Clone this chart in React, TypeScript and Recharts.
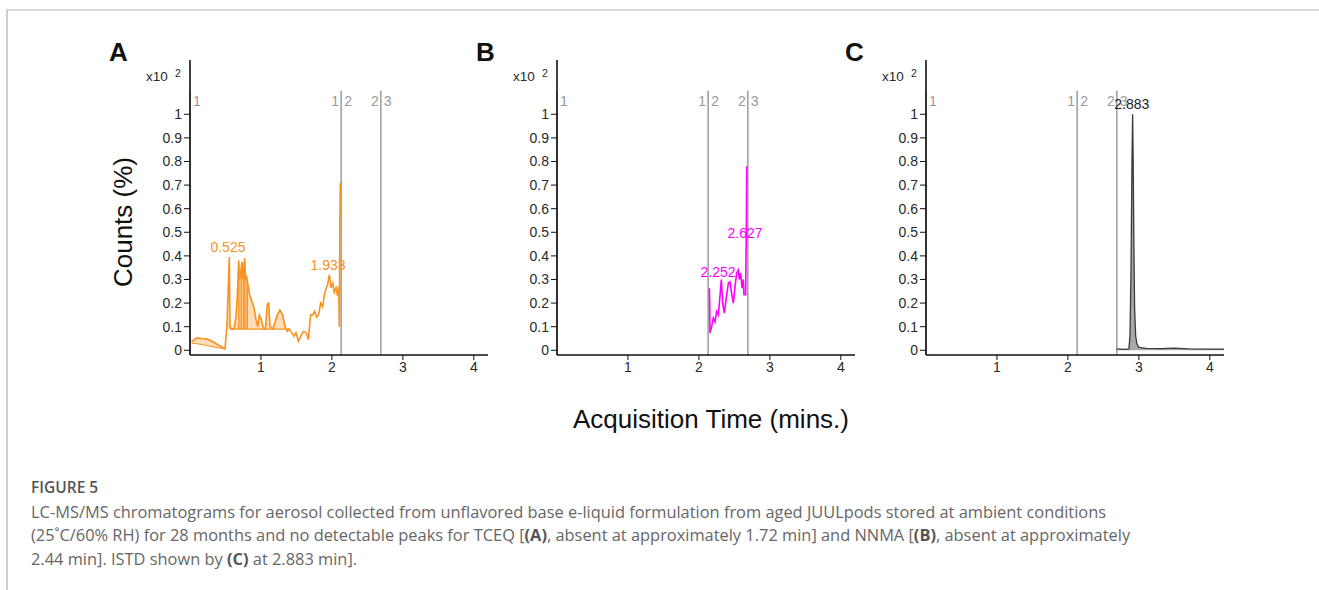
import React from 'react';
import { ComposedChart, Line, Area, XAxis, YAxis, ReferenceLine, ReferenceDot } from 'recharts';

// ---------- shared axes ----------
const xTicks = [1, 2, 3, 4];
const yTicks = [0, 0.1, 0.2, 0.3, 0.4, 0.5, 0.6, 0.7, 0.8, 0.9, 1];
const yTickLabels = ['0', '0.1', '0.2', '0.3', '0.4', '0.5', '0.6', '0.7', '0.8', '0.9', '1'];
const xDomain: [number, number] = [0, 4.2];
const yDomain: [number, number] = [-0.02, 1.23];

// segment markers (time, left label, right label)
const markerTimes = [0, 2.13, 2.69];
const markerLeft = ['', '1', '2'];
const markerRight = ['1', '2', '3'];
const markerTop = 1.1;

// ---------- panel A (TCEQ, orange) ----------
const traceA: [number, number][] = [
  [0.024, 0.038], [0.094, 0.052], [0.16, 0.05], [0.235, 0.048], [0.3, 0.04], [0.352, 0.031],
  [0.4, 0.022], [0.446, 0.014], [0.493, 0.006], [0.52, 0.1], [0.554, 0.395], [0.564, 0.1],
  [0.587, 0.09], [0.625, 0.095], [0.65, 0.15], [0.667, 0.23], [0.686, 0.38], [0.7, 0.3],
  [0.714, 0.33], [0.733, 0.375], [0.745, 0.3], [0.752, 0.33], [0.77, 0.39], [0.785, 0.3],
  [0.8, 0.31], [0.836, 0.24], [0.869, 0.21], [0.902, 0.18], [0.93, 0.13], [0.954, 0.1],
  [0.977, 0.15], [1.005, 0.13], [1.034, 0.095], [1.062, 0.09], [1.09, 0.195], [1.109, 0.2],
  [1.128, 0.1], [1.165, 0.09], [1.198, 0.12], [1.231, 0.15], [1.268, 0.17], [1.306, 0.15],
  [1.339, 0.1], [1.372, 0.08], [1.4, 0.09], [1.433, 0.075], [1.466, 0.06], [1.494, 0.075],
  [1.527, 0.038], [1.56, 0.06], [1.597, 0.08], [1.635, 0.075], [1.668, 0.046], [1.7, 0.15],
  [1.729, 0.15], [1.757, 0.165], [1.785, 0.14], [1.813, 0.15], [1.842, 0.2], [1.87, 0.185],
  [1.893, 0.235], [1.917, 0.26], [1.94, 0.28], [1.964, 0.32], [1.987, 0.265], [2.011, 0.285],
  [2.034, 0.245], [2.058, 0.265], [2.081, 0.23], [2.095, 0.27], [2.105, 0.1], [2.112, 0.54],
  [2.119, 0.71],
];
// small integrated region at start: [t, low, high]
const lowFillA: [number, number, number][] = [
  [0.024, 0.03, 0.038], [0.094, 0.028, 0.052], [0.235, 0.02, 0.048], [0.352, 0.013, 0.031],
  [0.446, 0.008, 0.014], [0.493, 0.006, 0.006],
];
const integrationBaseA = 0.09;
const integrationStartA = 0.52;
const integrationEndA = 1.4;
const dropLinesA: [number, number][] = [
  [0.686, 0.38], [0.705, 0.31], [0.728, 0.36], [0.752, 0.33], [0.77, 0.39], [0.79, 0.3], [0.81, 0.28],
];
const peaksA = [
  { t: 0.535, v: 0.395, text: '0.525' },
  { t: 1.945, v: 0.32, text: '1.933' },
];

// ---------- panel B (NNMA, magenta) ----------
const traceB: [number, number][] = [
  [2.147, 0.263], [2.152, 0.2], [2.156, 0.073], [2.18, 0.1], [2.203, 0.137], [2.227, 0.12],
  [2.25, 0.165], [2.274, 0.15], [2.297, 0.23], [2.316, 0.3], [2.335, 0.2], [2.358, 0.157],
  [2.382, 0.214], [2.415, 0.285], [2.438, 0.29], [2.462, 0.24], [2.485, 0.2], [2.509, 0.27],
  [2.532, 0.327], [2.556, 0.34], [2.57, 0.3], [2.589, 0.327], [2.607, 0.263], [2.626, 0.3],
  [2.635, 0.235], [2.659, 0.235], [2.664, 0.41], [2.668, 0.47], [2.674, 0.78],
];
const peaksB = [
  { t: 2.27, v: 0.29, text: '2.252' },
  { t: 2.65, v: 0.455, text: '2.627' },
];

// ---------- panel C (ISTD, grey) ----------
const traceC: [number, number][] = [
  [2.68, 0.006], [2.75, 0.005], [2.82, 0.004], [2.86, 0.006], [2.875, 0.06], [2.89, 0.35],
  [2.903, 0.8], [2.912, 1.0], [2.92, 0.8], [2.93, 0.45], [2.94, 0.18], [2.955, 0.06],
  [2.975, 0.025], [3.0, 0.012], [3.1, 0.008], [3.3, 0.007], [3.5, 0.009], [3.7, 0.006],
  [4.0, 0.005], [4.2, 0.005],
];
const peaksC = [{ t: 2.9, v: 1.0, text: '2.883' }];

// ---------- layout ----------
const PLOT_W = 298;
const PLOT_H = 295;
const Y_AXIS_W = 90;
const CHART_TOP = 50;
const panelLefts = [100, 467, 836];
const panelLetters = ['A', 'B', 'C'];

const chartFont = '"Liberation Sans", Arial, sans-serif';

const markerLabel = (left: string, right: string) => (props: any) => {
  const vb = props.viewBox || {};
  const x = vb.x ?? 0;
  const y = vb.y ?? 0;
  return (
    <g>
      {left ? (
        <text x={x - 2} y={y + 15} textAnchor="end" fill="#9a9a9a" fontSize={14} fontFamily={chartFont}>
          {left}
        </text>
      ) : null}
      {right ? (
        <text x={x + 3} y={y + 15} textAnchor="start" fill="#9a9a9a" fontSize={14} fontFamily={chartFont}>
          {right}
        </text>
      ) : null}
    </g>
  );
};

type Peak = { t: number; v: number; text: string };

function Panel(props: { left: number; children?: React.ReactNode; peaks: Peak[]; peakColor: string }) {
  const { left, children, peaks, peakColor } = props;
  return (
    <div style={{ position: 'absolute', left, top: CHART_TOP, fontFamily: chartFont }}>
      <ComposedChart
        width={Y_AXIS_W + PLOT_W + 10}
        height={10 + PLOT_H + 30}
        margin={{ top: 10, right: 10, left: 0, bottom: 0 }}
      >
        <XAxis
          type="number"
          dataKey="t"
          domain={xDomain}
          ticks={xTicks}
          allowDataOverflow
          height={30}
          tickSize={5}
          axisLine={{ stroke: '#111', strokeWidth: 1.6 }}
          tickLine={{ stroke: '#111' }}
          tick={{ fill: '#2a2a2a', fontSize: 14 }}
        />
        <YAxis
          type="number"
          domain={yDomain}
          ticks={yTicks}
          allowDataOverflow
          width={Y_AXIS_W}
          tickSize={6}
          axisLine={{ stroke: '#111', strokeWidth: 1.6 }}
          tickLine={{ stroke: '#111' }}
          tick={{ fill: '#2a2a2a', fontSize: 14 }}
          tickFormatter={(v: number) => yTickLabels[yTicks.indexOf(v)] ?? String(v)}
        />
        {markerTimes.map((m, i) => (
          <ReferenceLine
            key={'m' + i}
            segment={[{ x: m, y: markerTop }, { x: m, y: yDomain[0] }]}
            stroke="#8c8c8c"
            strokeWidth={1.3}
            label={markerLabel(markerLeft[i], markerRight[i])}
          />
        ))}
        {children}
        {peaks.map((p, i) => (
          <ReferenceDot
            key={'p' + i}
            x={p.t}
            y={p.v}
            r={0}
            fill="none"
            stroke="none"
            label={{ value: p.text, position: 'top', fill: peakColor, fontSize: 14, offset: 5 }}
          />
        ))}
      </ComposedChart>
    </div>
  );
}

const orange = '#F7931E';
const orangeFill = '#FCDDB8';
const magenta = '#FF00FF';

const dataA = traceA.map(([t, v]) => ({ t, v }));
const lowFillDataA = lowFillA.map(([t, lo, hi]) => ({ t, r: [lo, hi] }));
const integDataA = traceA
  .filter(([t]) => t >= integrationStartA && t <= integrationEndA)
  .map(([t, v]) => ({ t, r: [integrationBaseA, Math.max(v, integrationBaseA)] }));
const dataB = traceB.map(([t, v]) => ({ t, v }));
const dataC = traceC.map(([t, v]) => ({ t, v }));

const captionLine: React.CSSProperties = { whiteSpace: 'nowrap', height: 23.5, lineHeight: '23.5px' };
const boldStyle: React.CSSProperties = { fontWeight: 700, color: '#555' };

export default function App() {
  return (
    <div style={{ position: 'absolute', left: 0, top: 0, width: 1319, height: 590, background: '#fff', overflow: 'hidden' }}>
      {/* frame */}
      <div style={{ position: 'absolute', left: 6, top: 9, width: 1313, height: 2, background: '#dcdcdc' }} />
      <div style={{ position: 'absolute', left: 6, top: 9, width: 1.5, height: 581, background: '#cfcfcf' }} />

      <Panel left={panelLefts[0]} peaks={peaksA} peakColor={orange}>
        <Area
          data={lowFillDataA}
          dataKey="r"
          type="linear"
          stroke={orange}
          strokeWidth={1}
          fill={orangeFill}
          fillOpacity={1}
          isAnimationActive={false}
          dot={false}
          activeDot={false}
        />
        <Area
          data={integDataA}
          dataKey="r"
          type="linear"
          stroke="none"
          fill={orangeFill}
          fillOpacity={1}
          isAnimationActive={false}
          dot={false}
          activeDot={false}
        />
        <ReferenceLine
          segment={[{ x: integrationStartA + 0.04, y: integrationBaseA }, { x: integrationEndA, y: integrationBaseA }]}
          stroke={orange}
          strokeWidth={1.2}
        />
        {dropLinesA.map(([t, top], i) => (
          <ReferenceLine
            key={'d' + i}
            segment={[{ x: t, y: integrationBaseA }, { x: t, y: top }]}
            stroke={orange}
            strokeWidth={1}
          />
        ))}
        <Line
          data={dataA}
          dataKey="v"
          type="linear"
          stroke={orange}
          strokeWidth={1.6}
          dot={false}
          activeDot={false}
          isAnimationActive={false}
        />
      </Panel>

      <Panel left={panelLefts[1]} peaks={peaksB} peakColor={magenta}>
        <Line
          data={dataB}
          dataKey="v"
          type="linear"
          stroke={magenta}
          strokeWidth={1.6}
          dot={false}
          activeDot={false}
          isAnimationActive={false}
        />
      </Panel>

      <Panel left={panelLefts[2]} peaks={peaksC} peakColor="#222">
        <Area
          data={dataC}
          dataKey="v"
          type="linear"
          stroke="#3a3a3a"
          strokeWidth={1.3}
          fill="#9a9a9a"
          fillOpacity={0.85}
          baseValue={0}
          isAnimationActive={false}
          dot={false}
          activeDot={false}
        />
      </Panel>

      {/* overlay texts */}
      <svg width={1319} height={590} style={{ position: 'absolute', left: 0, top: 0, pointerEvents: 'none' }}>
        {panelLefts.map((pl, i) => {
          const ax = pl + Y_AXIS_W;
          return (
            <g key={'o' + i} fontFamily={chartFont}>
              <text x={ax - 81} y={61} fontSize={26} fontWeight="bold" fill="#111">
                {panelLetters[i]}
              </text>
              <text x={ax - 44} y={81} fontSize={13.5} fill="#2a2a2a">
                x10
              </text>
              <text x={ax - 15} y={77} fontSize={10.5} fill="#2a2a2a">
                2
              </text>
            </g>
          );
        })}
        <text
          x={123}
          y={222}
          transform="rotate(-90 123 222)"
          textAnchor="middle"
          dy="0.35em"
          fontSize={26}
          fontFamily={chartFont}
          fill="#111"
        >
          Counts (%)
        </text>
        <text x={711} y={428} textAnchor="middle" fontSize={26} fontFamily={chartFont} fill="#111">
          Acquisition Time (mins.)
        </text>
      </svg>

      {/* caption */}
      <div style={{ position: 'absolute', left: 31, top: 476, fontFamily: '"Open Sans", "Noto Sans", sans-serif', color: '#666', fontSize: 16.4 }}>
        <div style={{ ...captionLine, fontWeight: 600, color: '#555', fontSize: 15.5 }}>FIGURE 5</div>
        <div style={captionLine}>
          LC-MS/MS chromatograms for aerosol collected from unflavored base e-liquid formulation from aged JUULpods stored at ambient conditions
        </div>
        <div style={captionLine}>
          (25˚C/60% RH) for 28 months and no detectable peaks for TCEQ [<b style={boldStyle}>(A)</b>, absent at approximately 1.72 min] and NNMA [<b style={boldStyle}>(B)</b>, absent at approximately
        </div>
        <div style={captionLine}>
          2.44 min]. ISTD shown by <b style={boldStyle}>(C)</b> at 2.883 min].
        </div>
      </div>
    </div>
  );
}
